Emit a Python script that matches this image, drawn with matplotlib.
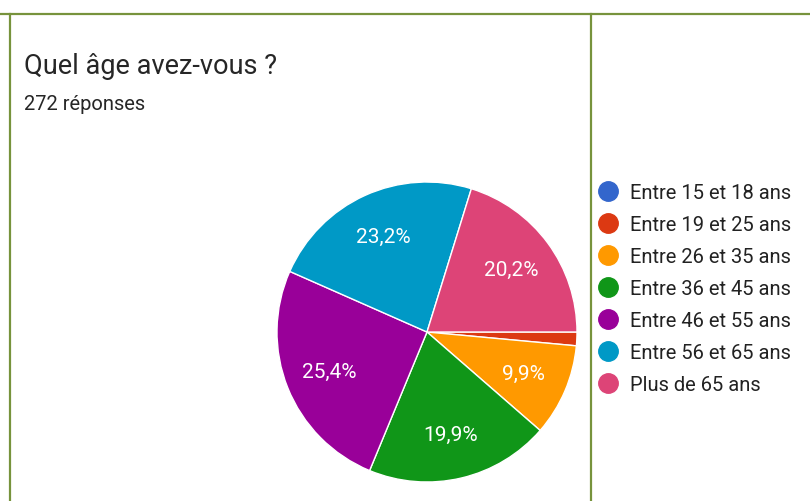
import matplotlib.pyplot as plt
from matplotlib.lines import Line2D

plt.rcParams['font.family'] = ['Roboto', 'DejaVu Sans']

# survey answers (272 responses)
categories = ["Entre 15 et 18 ans", "Entre 19 et 25 ans", "Entre 26 et 35 ans",
              "Entre 36 et 45 ans", "Entre 46 et 55 ans", "Entre 56 et 65 ans",
              "Plus de 65 ans"]
counts = [0, 4, 27, 54, 69, 63, 55]
colors = ["#3366cc", "#dc3912", "#ff9900", "#109618", "#990099", "#0099c6", "#dd4477"]

title = "Quel âge avez-vous ?"
subtitle = "272 réponses"

W, H = 810, 502
fig = plt.figure(figsize=(W / 100, H / 100), dpi=100)

# table cell borders
border_col = "#77933c"
fig.add_artist(Line2D([0, 1], [1 - 15 / H, 1 - 15 / H], color=border_col, lw=1.6))
fig.add_artist(Line2D([10 / W, 10 / W], [0, 1 - 15 / H], color=border_col, lw=1.6))
fig.add_artist(Line2D([591 / W, 591 / W], [0, 1 - 15 / H], color=border_col, lw=1.6))

fig.text(24 / W, 1 - 74 / H, title, fontsize=19.5, color="#262626", va="baseline")
fig.text(24 / W, 1 - 110 / H, subtitle, fontsize=14.5, color="#262626", va="baseline")


def pct_label(p):
    if p < 5:
        return ""
    return "{:.1f}%".format(p).replace(".", ",")


ax = fig.add_axes([277 / W, 19 / H, 300 / W, 300 / H])
wedges, texts, autotexts = ax.pie(counts, colors=colors, startangle=0, counterclock=False,
                                  autopct=pct_label, pctdistance=0.7,
                                  wedgeprops=dict(edgecolor="white", linewidth=1),
                                  textprops=dict(color="white", fontsize=15))
ax.set_xlim(-1, 1)
ax.set_ylim(-1, 1)

handles = [Line2D([], [], marker="o", linestyle="none", markersize=14,
                  markerfacecolor=c, markeredgecolor=c) for c in colors]
fig.legend(handles, categories, loc="upper left", bbox_to_anchor=(596 / W, 1 - 184 / H),
           frameon=False, fontsize=14.5, labelspacing=0.645, handletextpad=0.5,
           handlelength=1.2, labelcolor="#222222", borderpad=0, borderaxespad=0)

fig.savefig("out.png", dpi=100)
